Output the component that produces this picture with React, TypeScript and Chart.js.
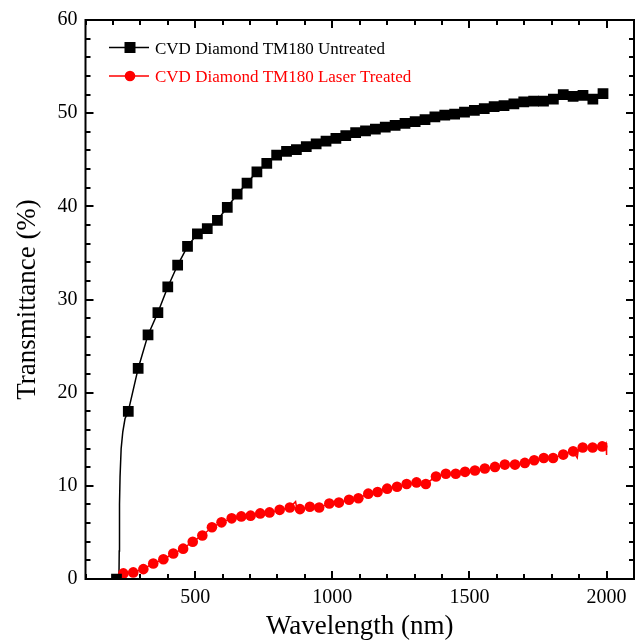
import React, { useEffect, useRef } from "react";
import { Chart, registerables } from "chart.js";

Chart.register(...registerables);

const FONT = "'Liberation Serif', 'Times New Roman', Times, serif";

const seriesLabels = ["CVD Diamond TM180 Untreated", "CVD Diamond TM180 Laser Treated"];
const xTitle = "Wavelength (nm)";
const yTitle = "Transmittance (%)";

const xMajorTicks = [500, 1000, 1500, 2000];
const yMajorTicks = [0, 10, 20, 30, 40, 50, 60];

// Untreated: marker points
const untreatedNm = [
  213, 256, 292, 328, 364, 400, 436, 472, 508, 544, 581, 617, 653, 689, 725, 761, 797, 833,
  869, 905, 941, 977, 1013, 1049, 1085, 1121, 1157, 1193, 1229, 1265, 1302, 1338, 1374, 1410,
  1446, 1482, 1518, 1554, 1590, 1626, 1662, 1698, 1734, 1770, 1806, 1842, 1878, 1914, 1950, 1987,
];
const untreatedT = [
  0, 18.0, 22.6, 26.2, 28.6, 31.35, 33.7, 35.7, 37.05, 37.6, 38.5, 39.9, 41.3, 42.5, 43.7, 44.6, 45.5, 45.9,
  46.1, 46.4, 46.7, 47.0, 47.3, 47.6, 47.9, 48.1, 48.3, 48.5, 48.7, 48.9, 49.1, 49.3, 49.6, 49.8,
  49.9, 50.1, 50.3, 50.5, 50.7, 50.8, 51.0, 51.2, 51.3, 51.3, 51.5, 52.0, 51.8, 51.9, 51.5, 52.1,
];
// Untreated: extra line-only points (absorption edge, end)
const untreatedEdgeNm = [222, 223, 224, 226, 230, 236, 244, 2000];
const untreatedEdgeT = [0.2, 3, 8, 11, 14, 15.8, 17.2, 52.3];

// Laser treated: marker points
const treatedNm = [
  238, 274, 311, 347, 384, 420, 456, 491, 526, 561,
  596, 633, 668, 702, 737, 771, 808, 845, 882, 918,
  952, 989, 1024, 1061, 1095, 1131, 1165, 1200, 1236, 1271,
  1307, 1341, 1378, 1414, 1450, 1484, 1520, 1556, 1593, 1629,
  1666, 1702, 1736, 1771, 1805, 1842, 1878, 1913, 1949, 1984,
];
const treatedT = [
  0.6, 0.71, 1.06, 1.67, 2.12, 2.73, 3.26, 4.0, 4.67, 5.55,
  6.08, 6.51, 6.72, 6.8, 7.04, 7.15, 7.42, 7.68, 7.5, 7.75,
  7.68, 8.1, 8.2, 8.5, 8.67, 9.16, 9.34, 9.7, 9.9, 10.2,
  10.37, 10.2, 11.0, 11.3, 11.3, 11.5, 11.65, 11.86, 12.03, 12.28,
  12.28, 12.46, 12.74, 12.99, 12.99, 13.35, 13.7, 14.12, 14.12, 14.23,
];
// Laser treated: extra line-only noise points
const treatedNoiseNm = [866, 872, 1893, 1897, 1998, 2000];
const treatedNoiseT = [8.3, 7.3, 13.0, 13.9, 14.6, 13.3];

const BLACK = "#000000";
const RED = "#ff0000";

function toPoints(xs: number[], ys: number[]) {
  return xs.map((x, i) => ({ x, y: ys[i] }));
}
function merged(xs1: number[], ys1: number[], xs2: number[], ys2: number[]) {
  return [...toPoints(xs1, ys1), ...toPoints(xs2, ys2)].sort((a, b) => a.x - b.x);
}

const framePlugin = {
  id: "frameTicksLegend",
  afterDraw(chart: any) {
    const { ctx, chartArea, scales } = chart;
    const { left, right, top, bottom } = chartArea;
    const x = scales.x;
    const y = scales.y;
    ctx.save();
    ctx.strokeStyle = BLACK;
    ctx.lineWidth = 2;
    ctx.strokeRect(left, top, right - left, bottom - top);
    ctx.beginPath();
    for (let v = 100; v <= 2100; v += 100) {
      const px = Math.round(x.getPixelForValue(v));
      const len = xMajorTicks.includes(v) ? 8 : 5;
      ctx.moveTo(px, bottom);
      ctx.lineTo(px, bottom - len);
      ctx.moveTo(px, top);
      ctx.lineTo(px, top + len);
    }
    for (let v = 0; v <= 60; v += 2) {
      const py = Math.round(y.getPixelForValue(v));
      const len = yMajorTicks.includes(v) ? 8 : 5;
      ctx.moveTo(left, py);
      ctx.lineTo(left + len, py);
      ctx.moveTo(right, py);
      ctx.lineTo(right - len, py);
    }
    ctx.stroke();

    // legend
    const items = [
      { label: seriesLabels[0], color: BLACK, style: "rect", cy: 47.5 },
      { label: seriesLabels[1], color: RED, style: "circle", cy: 76 },
    ];
    ctx.font = `17px ${FONT}`;
    ctx.textBaseline = "alphabetic";
    ctx.textAlign = "left";
    items.forEach((it) => {
      ctx.strokeStyle = it.color;
      ctx.fillStyle = it.color;
      ctx.lineWidth = 1.5;
      ctx.beginPath();
      ctx.moveTo(109, it.cy);
      ctx.lineTo(149, it.cy);
      ctx.stroke();
      ctx.beginPath();
      if (it.style === "rect") {
        ctx.rect(130 - 5.5, it.cy - 5.5, 11, 11);
      } else {
        ctx.arc(130, it.cy, 5.3, 0, Math.PI * 2);
      }
      ctx.fill();
      ctx.fillText(it.label, 155, it.cy + 6);
    });
    ctx.restore();
  },
};

export default function App() {
  const canvasRef = useRef<HTMLCanvasElement | null>(null);

  useEffect(() => {
    document.body.style.margin = "0";
    document.body.style.overflow = "hidden";
    const canvas = canvasRef.current;
    if (!canvas) return;

    const chart = new Chart(canvas, {
      type: "scatter",
      data: {
        datasets: [
          {
            label: seriesLabels[0] + " markers",
            data: toPoints(untreatedNm, untreatedT),
            showLine: false,
            pointStyle: "rect",
            pointRadius: 7.6,
            pointBackgroundColor: BLACK,
            pointBorderWidth: 0,
            borderColor: BLACK,
            backgroundColor: BLACK,
          },
          {
            label: seriesLabels[1] + " markers",
            data: toPoints(treatedNm, treatedT),
            showLine: false,
            pointStyle: "circle",
            pointRadius: 5.3,
            pointBackgroundColor: RED,
            pointBorderWidth: 0,
            borderColor: RED,
            backgroundColor: RED,
          },
          {
            label: seriesLabels[0],
            data: merged(untreatedNm, untreatedT, untreatedEdgeNm, untreatedEdgeT),
            showLine: true,
            pointRadius: 0,
            borderColor: BLACK,
            borderWidth: 1.5,
            tension: 0,
          },
          {
            label: seriesLabels[1],
            data: merged(treatedNm, treatedT, treatedNoiseNm, treatedNoiseT),
            showLine: true,
            pointRadius: 0,
            borderColor: RED,
            borderWidth: 1.5,
            tension: 0,
          },
        ],
      },
      options: {
        animation: false,
        responsive: true,
        maintainAspectRatio: false,
        layout: { padding: { left: 0, top: 14, right: 8, bottom: 0 } },
        plugins: {
          legend: { display: false },
          tooltip: { enabled: false },
        },
        scales: {
          x: {
            type: "linear",
            min: 100,
            max: 2100,
            afterBuildTicks: (s: any) => {
              s.ticks = xMajorTicks.map((v) => ({ value: v }));
            },
            afterFit: (s: any) => {
              s.height = 65;
            },
            grid: { display: false, drawTicks: false },
            border: { display: false },
            ticks: {
              color: BLACK,
              font: { family: FONT, size: 20 },
              padding: 7,
              maxRotation: 0,
              autoSkip: false,
              callback: (v: any) => String(v),
            },
            title: {
              display: true,
              text: xTitle,
              color: BLACK,
              font: { family: FONT, size: 27 },
              padding: { top: 0, bottom: 1 },
            },
          },
          y: {
            type: "linear",
            min: 0,
            max: 60,
            afterBuildTicks: (s: any) => {
              s.ticks = yMajorTicks.map((v) => ({ value: v }));
            },
            afterFit: (s: any) => {
              s.width = 85.5;
            },
            grid: { display: false, drawTicks: false },
            border: { display: false },
            ticks: {
              color: BLACK,
              font: { family: FONT, size: 20 },
              padding: 8,
              autoSkip: false,
              callback: (v: any) => String(v),
            },
            title: {
              display: true,
              text: yTitle,
              color: BLACK,
              font: { family: FONT, size: 27 },
              padding: { top: 12, bottom: 0 },
            },
          },
        },
      },
      plugins: [framePlugin],
    } as any);

    return () => chart.destroy();
  }, []);

  return (
    <div style={{ width: 642, height: 644, position: "relative" }}>
      <canvas ref={canvasRef} />
    </div>
  );
}
